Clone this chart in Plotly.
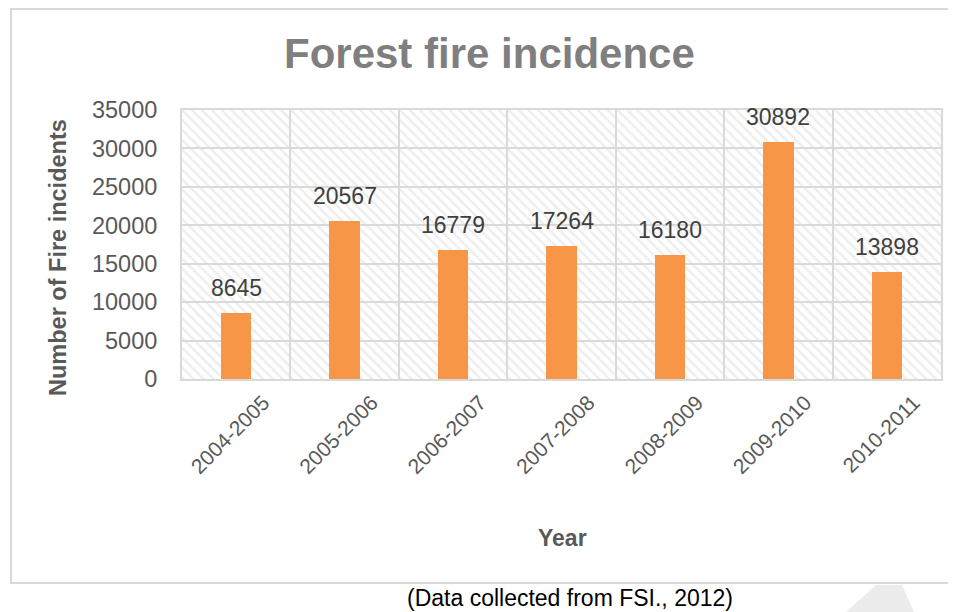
import plotly.graph_objects as go

# ---- data ----
years = ["2004-2005", "2005-2006", "2006-2007", "2007-2008", "2008-2009", "2009-2010", "2010-2011"]
fires = [8645, 20567, 16779, 17264, 16180, 30892, 13898]
y_max = 35000
y_step = 5000

chart_title = "Forest fire incidence"
y_title = "Number of Fire incidents"
x_title = "Year"
caption = "(Data collected from FSI., 2012)"

# ---- layout geometry (page pixels; page body has an 8px margin) ----
OFF = 8
W, H = 956 - OFF, 612 - OFF
L, R, T, B = 182, 941, 110, 379
pw, ph = R - L, B - T


def px(x):
    return (x - L) / pw


def py(y):
    return (B - y) / ph


FONT = "Liberation Sans, Arial, sans-serif"
idx = list(range(len(years)))

fig = go.Figure()

# hatched plot-area background
fig.add_trace(go.Bar(
    x=idx, y=[y_max] * len(years), width=1,
    marker=dict(color="rgba(0,0,0,0)", line=dict(width=0),
                pattern=dict(shape="\\", fgcolor="#dcdcdc", bgcolor="rgba(0,0,0,0)",
                             size=7, solidity=0.35)),
    hoverinfo="skip", showlegend=False,
))

# data bars
fig.add_trace(go.Bar(
    x=idx, y=fires, width=0.28,
    marker=dict(color="#F79646", line=dict(width=0)),
    showlegend=False,
))

annotations = []
for i, v in zip(idx, fires):
    annotations.append(dict(x=i, y=v, xref="x", yref="y", text=str(v), showarrow=False,
                            yanchor="bottom", yshift=10,
                            font=dict(family=FONT, size=23, color="#404040")))

annotations += [
    dict(x=px(489), y=py(53), xref="paper", yref="paper", text=f"<b>{chart_title}</b>",
         showarrow=False, xanchor="center", yanchor="middle",
         font=dict(family=FONT, size=42, color="#7f7f7f")),
    dict(x=px(58), y=py(258), xref="paper", yref="paper", text=f"<b>{y_title}</b>",
         showarrow=False, textangle=-90, xanchor="center", yanchor="middle",
         font=dict(family=FONT, size=23.5, color="#595959")),
    dict(x=px(562), y=py(538), xref="paper", yref="paper", text=f"<b>{x_title}</b>",
         showarrow=False, xanchor="center", yanchor="middle",
         font=dict(family=FONT, size=23, color="#595959")),
    dict(x=px(570), y=py(598), xref="paper", yref="paper", text=caption,
         showarrow=False, xanchor="center", yanchor="middle",
         font=dict(family=FONT, size=23, color="#000000")),
]

shapes = [
    dict(type="rect", xref="paper", yref="paper",
         x0=px(11), x1=px(960), y0=py(583), y1=py(9),
         line=dict(color="#d9d9d9", width=2), fillcolor="rgba(0,0,0,0)", layer="below"),
    # faint watermark fragment at the bottom right
    dict(type="path", xref="paper", yref="paper",
         path=(f"M {px(846)} {py(612)} L {px(876)} {py(585)} L {px(902)} {py(585)} "
               f"L {px(914)} {py(612)} Z"),
         line=dict(width=0), fillcolor="#ececec", layer="below"),
]

fig.update_layout(
    width=W, height=H,
    margin=dict(l=L - OFF, r=W - (R - OFF), t=T - OFF, b=H - (B - OFF), pad=0),
    paper_bgcolor="white", plot_bgcolor="white",
    barmode="overlay", bargap=0,
    annotations=annotations, shapes=shapes,
    font=dict(family=FONT, size=22, color="#595959"),
)

fig.update_xaxes(
    range=[-0.5, len(years) - 0.5],
    tickmode="array", tickvals=[i + 0.25 for i in idx], ticktext=years, tickangle=-45,
    tickfont=dict(family=FONT, size=21, color="#595959"),
    showgrid=False, zeroline=False,
    showline=True, linecolor="#d9d9d9", linewidth=2, mirror=True,
    ticks="outside", ticklen=1, tickcolor="rgba(0,0,0,0)",
    minor=dict(tick0=-0.5, dtick=1, showgrid=True, gridcolor="#d9d9d9", gridwidth=2),
)

fig.update_yaxes(
    range=[0, y_max], dtick=y_step, tick0=0, tickformat="d",
    tickfont=dict(family=FONT, size=23.5, color="#595959"),
    showgrid=True, gridcolor="#d9d9d9", gridwidth=2, zeroline=False,
    showline=True, linecolor="#d9d9d9", linewidth=2, mirror=True,
    ticks="outside", ticklen=18, tickcolor="rgba(0,0,0,0)",
)

fig.write_html("out.html")
